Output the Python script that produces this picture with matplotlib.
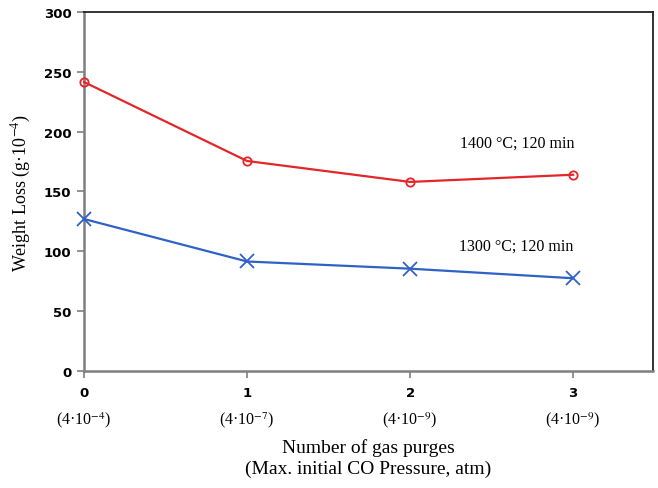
import matplotlib.pyplot as plt
from matplotlib import transforms

plt.rcParams['mathtext.fontset'] = 'stix'

purges = [0, 1, 2, 3]
pressure_labels = ["(4·10$^{-4}$)", "(4·10$^{-7}$)", "(4·10$^{-9}$)", "(4·10$^{-9}$)"]
loss_1400 = [241.5, 175.5, 158, 164]
loss_1300 = [127, 91.5, 85.5, 77.5]

serif = 'Liberation Serif'

fig = plt.figure(figsize=(6.58, 4.89), dpi=100)
ax = fig.add_axes([0.1277, 0.2393, 0.8647, 0.7341])

ax.plot(purges, loss_1400, color='#e3262a', lw=1.6, marker='o', ms=6,
        mfc='none', mec='#e3262a', mew=1.3, clip_on=False, zorder=3)
ax.plot(purges, loss_1300, color='#2f62c4', lw=1.6, marker='x', ms=10,
        mec='#2f62c4', mew=1.3, clip_on=False, zorder=3)

ax.set_xlim(0, 3.49)
ax.set_ylim(0, 300)
ax.set_xticks(purges)
ax.set_xticklabels([str(p) for p in purges], fontweight='bold', fontsize=9.5)
ax.set_yticks(range(0, 301, 50))
ax.set_yticklabels([str(v) for v in range(0, 301, 50)], fontweight='bold', fontsize=9.5)
ax.tick_params(axis='both', direction='out', length=5, width=1.2, color='#7f7f7f', pad=6)
ax.tick_params(axis='y', pad=4)

for s in ['left', 'bottom']:
    ax.spines[s].set_color('#7f7f7f')
    ax.spines[s].set_linewidth(1.8)
for s in ['top', 'right']:
    ax.spines[s].set_color('#222222')
    ax.spines[s].set_linewidth(1.3)

# second row of x labels: pressure
trans = transforms.blended_transform_factory(ax.transData, ax.transAxes)
for p, lab in zip(purges, pressure_labels):
    ax.text(p, -0.135, lab, transform=trans, ha='center', va='center',
            fontsize=11.5, family=serif)

ax.text(0.5, -0.213, "Number of gas purges", transform=ax.transAxes, ha='center',
        va='center', fontsize=14, family=serif)
ax.text(0.5, -0.272, "(Max. initial CO Pressure, atm)", transform=ax.transAxes,
        ha='center', va='center', fontsize=14, family=serif)

ax.set_ylabel("Weight Loss (g·10$^{-4}$)", fontsize=13, family=serif, labelpad=8)

ax.text(2.66, 190.5, "1400 °C; 120 min", ha='center', va='center', fontsize=11.5, family=serif)
ax.text(2.65, 105, "1300 °C; 120 min", ha='center', va='center', fontsize=11.5, family=serif)

fig.savefig('out.png', dpi=100)
